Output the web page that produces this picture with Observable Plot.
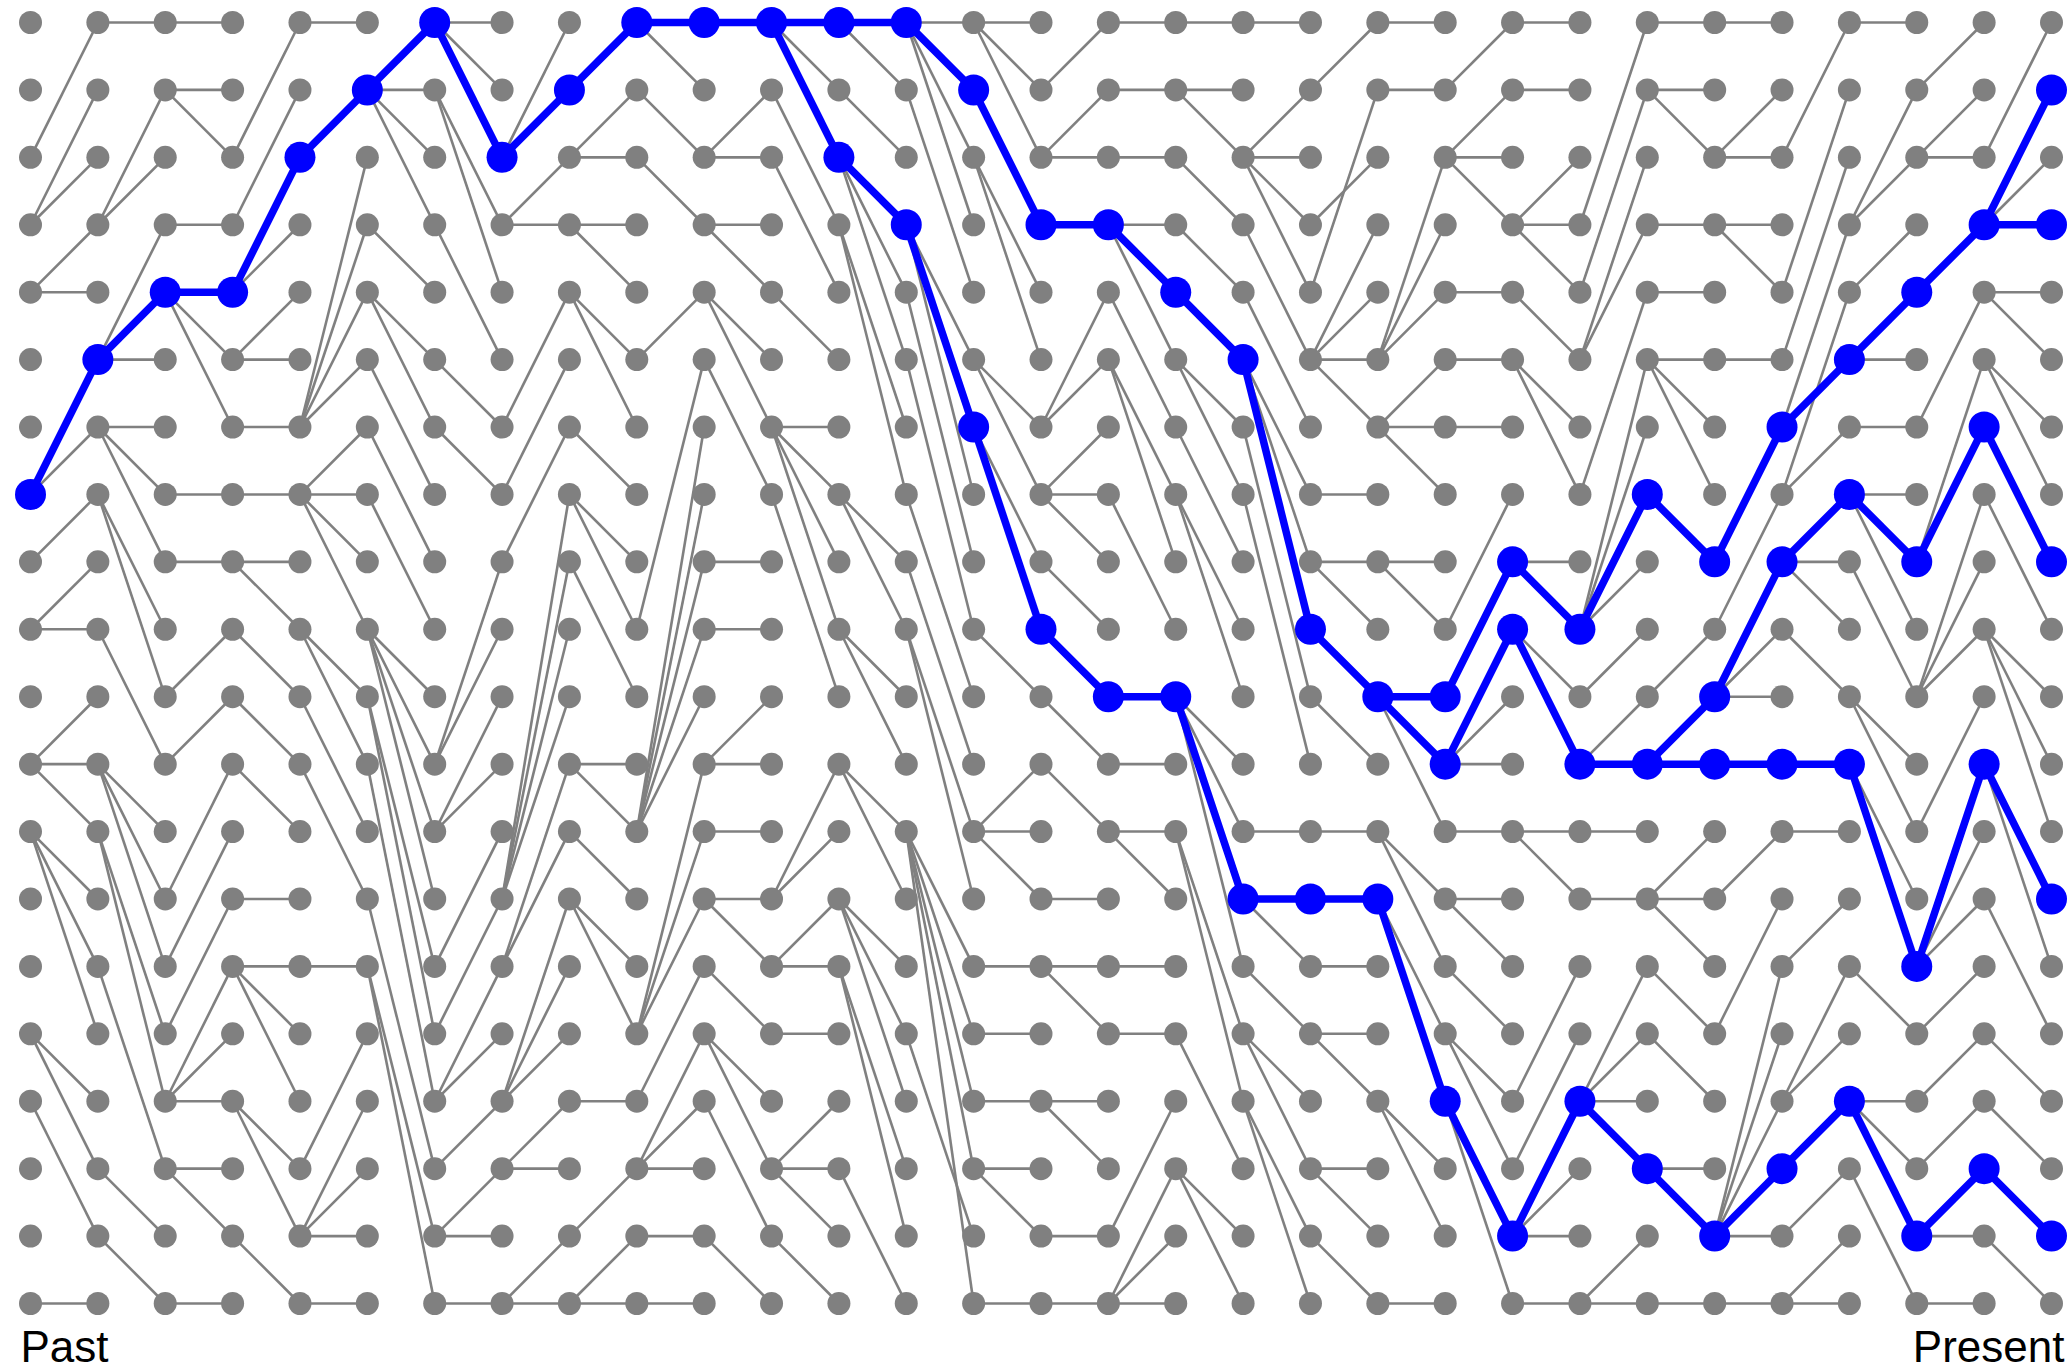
<!DOCTYPE html>
<html><head><meta charset="utf-8">
<script src="https://cdn.jsdelivr.net/npm/d3@7"></script>
<script src="https://cdn.jsdelivr.net/npm/@observablehq/plot@0.6"></script>
<style>body{margin:0;background:#fff}svg{display:block}</style>
</head><body><div id="chart"></div>
<script>
// parent row (in previous generation) of each of the 20 individuals, per generation
const gen1 = [2,3,3,4,4,7,7,8,9,9,11,11,11,12,12,12,15,15,16,19];
const gen2 = [0,3,3,5,5,5,6,6,6,7,7,9,11,11,11,12,12,14,17,18];
const gen3 = [0,1,1,3,4,4,4,7,8,10,11,13,14,15,16,16,16,17,17,19];
const gen4 = [2,3,4,4,5,5,6,7,8,8,9,10,11,13,14,14,14,16,16,18];
const gen5 = [0,2,6,6,6,6,7,7,7,7,9,9,10,11,14,17,18,18,18,19];
const gen6 = [1,1,1,1,3,4,4,5,6,7,9,9,9,9,10,10,11,13,14,14];
const gen7 = [0,0,0,1,1,3,5,6,11,11,12,12,14,15,16,16,17,18,18,19];
const gen8 = [2,2,3,3,6,7,8,13,13,13,13,14,14,16,16,16,17,17,19,19];
const gen9 = [1,2,2,3,3,4,4,6,7,7,8,11,11,12,13,13,16,18,19,19];
const gen10 = [0,0,1,2,5,9,12,12,12,12,12,15,15,15,16,17,17,17,18,19];
const gen11 = [0,2,2,3,3,4,4,5,8,9,11,11,12,13,13,14,15,15,16,18];
const gen12 = [0,0,0,1,2,4,6,6,6,6,7,13,13,14,14,15,17,17,17,18];
const gen13 = [0,0,1,2,2,2,3,3,7,7,9,9,11,11,13,13,13,14,14,17];
const gen14 = [0,0,0,0,1,3,3,3,4,5,7,8,9,9,12,12,12,12,15,12];
const gen15 = [0,0,0,1,2,2,5,5,6,6,9,12,12,12,14,15,16,17,17,19];
const gen16 = [1,2,2,3,6,6,7,7,7,8,9,10,11,13,14,14,16,16,18,19];
const gen17 = [0,1,2,3,3,3,4,5,5,7,10,11,12,12,14,15,18,19,19,19];
const gen18 = [0,1,1,2,3,4,5,5,6,7,7,10,10,10,10,12,12,15,17,17];
const gen19 = [0,2,2,2,2,3,4,5,5,5,6,7,12,13,13,14,15,15,16,16];
const gen20 = [1,4,3,5,5,5,5,7,8,8,9,10,12,13,14,15,15,17,17,18];
const gen21 = [0,1,5,5,5,6,6,6,8,8,10,10,10,12,12,13,13,16,16,19];
const gen22 = [1,2,2,2,4,5,6,9,10,11,11,11,12,13,13,14,15,15,16,16];
const gen23 = [0,1,3,3,3,4,5,5,8,8,9,9,12,12,16,17,18,18,18,19];
const gen24 = [3,4,5,5,7,9,9,9,9,10,11,11,12,13,16,16,16,16,19,19];
const gen25 = [0,1,1,3,4,5,5,5,7,10,11,11,13,13,13,14,15,17,17,19];
const gen26 = [0,2,2,3,3,5,8,9,10,10,10,11,13,15,18,18,18,18,18,19];
const gen27 = [2,4,5,6,7,6,7,8,8,8,9,11,12,14,16,16,17,18,19,19];
const gen28 = [0,3,3,4,5,5,6,7,7,7,8,10,10,11,11,14,16,16,16,17];
const gen29 = [1,2,2,4,6,8,8,10,10,10,12,14,14,14,15,16,17,18,18,19];
const gen30 = [2,3,3,3,4,4,5,5,6,7,9,9,9,11,11,13,15,16,17,18];
// individuals of the present generation whose ancestry is traced
const sampled = [1,3,8,13,18];
const labels = ["Past", "Present"];

const generations = [gen1,gen2,gen3,gen4,gen5,gen6,gen7,gen8,gen9,gen10,gen11,gen12,gen13,gen14,gen15,
  gen16,gen17,gen18,gen19,gen20,gen21,gen22,gen23,gen24,gen25,gen26,gen27,gen28,gen29,gen30];
const N = 20, T = generations.length;

const nodes = [];
for (let t = 0; t <= T; t++) for (let i = 0; i < N; i++) nodes.push({t, i});
const links = [];
generations.forEach((g, k) => g.forEach((p, i) => links.push({t0: k, p, t1: k + 1, i})));

// ancestry of sampled individuals
let current = new Set(sampled);
const blueNodes = [], blueLinks = [];
for (let t = T; t >= 0; t--) {
  const next = new Set();
  for (const i of current) {
    blueNodes.push({t, i});
    if (t > 0) {
      const p = generations[t - 1][i];
      blueLinks.push({t0: t - 1, p, t1: t, i});
      next.add(p);
    }
  }
  current = next;
}

const chart = Plot.plot({
  width: 2067,
  height: 1372,
  marginLeft: 30,
  marginRight: 16,
  marginTop: 22,
  marginBottom: 69,
  x: {domain: [0, T], axis: null},
  y: {domain: [0, N - 1], reverse: true, axis: null},
  style: {fontFamily: "'Liberation Sans', Arial, Helvetica, sans-serif", background: "#fff"},
  marks: [
    Plot.link(links, {x1: "t0", y1: "p", x2: "t1", y2: "i", stroke: "#808080", strokeWidth: 2.6}),
    Plot.dot(nodes, {x: "t", y: "i", r: 11.5, fill: "#808080", stroke: null}),
    Plot.link(blueLinks, {x1: "t0", y1: "p", x2: "t1", y2: "i", stroke: "#0000ff", strokeWidth: 7.5}),
    Plot.dot(blueNodes, {x: "t", y: "i", r: 15.5, fill: "#0000ff", stroke: null}),
    Plot.text([labels[0]], {frameAnchor: "bottom-left", text: d => d, textAnchor: "start", lineAnchor: "bottom", dx: -10, dy: 58, fontSize: 44, fill: "#000"}),
    Plot.text([labels[1]], {frameAnchor: "bottom-right", text: d => d, textAnchor: "end", lineAnchor: "bottom", dx: 13, dy: 58, fontSize: 44, fill: "#000"})
  ]
});
document.getElementById("chart").appendChild(chart);
</script>
</body></html>
